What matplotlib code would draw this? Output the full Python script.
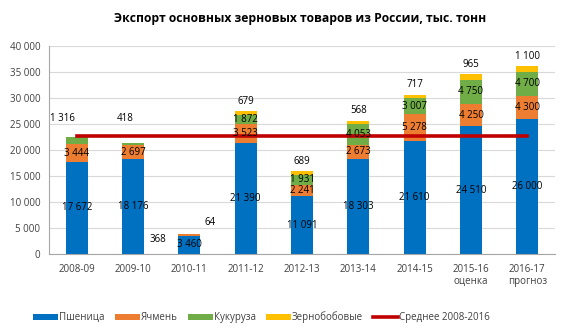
import numpy as np
import matplotlib.pyplot as plt
from matplotlib.ticker import FuncFormatter

plt.rcParams['font.family'] = ['Open Sans', 'DejaVu Sans']

seasons = ["2008-09", "2009-10", "2010-11", "2011-12", "2012-13",
           "2013-14", "2014-15", "2015-16\nоценка", "2016-17\nпрогноз"]
wheat = [17672, 18176, 3460, 21390, 11091, 18303, 21610, 24510, 26000]
barley = [3444, 2697, 368, 3523, 2241, 2673, 5278, 4250, 4300]
corn = [1316, 418, 64, 1872, 1931, 4053, 3007, 4750, 4700]
pulses = [120, 100, 40, 679, 689, 568, 717, 965, 1100]
average = 22700

colors = ["#0070C0", "#ED7D31", "#70AD47", "#FFC000"]
names = ["Пшеница", "Ячмень", "Кукуруза", "Зернобобовые"]


def fmt(v):
    return f"{v:,}".replace(",", " ")


fig = plt.figure(figsize=(5.72, 3.29), dpi=100)
ax = fig.add_axes([0.085, 0.228, 0.886, 0.633])

x = np.arange(len(seasons))
w = 0.39
bottom = np.zeros(len(seasons))
for vals, c, n in zip([wheat, barley, corn, pulses], colors, names):
    ax.bar(x, vals, w, bottom=bottom, color=c, label=n, zorder=2)
    bottom += np.array(vals)

ax.plot(x, [average] * len(x), color="#C00000", lw=2.6, zorder=3,
        label="Среднее 2008-2016")

fs = 7
# labels inside segments
for i in range(len(x)):
    ax.text(x[i], wheat[i] / 2, fmt(wheat[i]), ha="center", va="center",
            fontsize=fs, zorder=4)
    if i != 2:
        ax.text(x[i], wheat[i] + barley[i] / 2, fmt(barley[i]), ha="center",
                va="center", fontsize=fs, zorder=4)
    if i >= 3:
        ax.text(x[i], wheat[i] + barley[i] + corn[i] / 2, fmt(corn[i]),
                ha="center", va="center", fontsize=fs, zorder=4)
        ax.annotate(fmt(pulses[i]), (x[i], bottom[i]), xytext=(0, 7),
                    textcoords="offset points", ha="center", va="center",
                    fontsize=fs, zorder=4)

# labels that Excel pushed out of the small segments
ax.text(x[0] - 0.26, 26100, fmt(corn[0]), ha="center", va="center", fontsize=fs)
ax.text(x[1] - 0.14, 26100, fmt(corn[1]), ha="center", va="center", fontsize=fs)
ax.text(x[2] - 0.56, 2700, fmt(barley[2]), ha="center", va="center", fontsize=fs)
ax.text(x[2] + 0.37, 6000, fmt(corn[2]), ha="center", va="center", fontsize=fs)

ax.set_xlim(-0.5, len(x) - 0.5)
ax.set_ylim(0, 40000)
ax.set_yticks(np.arange(0, 40001, 5000))
ax.yaxis.set_major_formatter(FuncFormatter(lambda v, p: fmt(int(v))))
ax.set_xticks(x)
ax.set_xticklabels(seasons, fontsize=fs)
ax.tick_params(axis="y", labelsize=fs, length=0, pad=6, colors="#404040")
ax.tick_params(axis="x", length=0, pad=7, colors="#404040")
ax.grid(axis="y", color="#D9D9D9", lw=0.8, zorder=0)
for s in ["top", "right"]:
    ax.spines[s].set_visible(False)
ax.spines["left"].set_color("#A6A6A6")
ax.spines["bottom"].set_color("#A6A6A6")

fig.text(0.525, 0.945, "Экспорт основных зерновых товаров из России, тыс. тонн",
         ha="center", va="center", fontsize=8.7, fontweight="bold")

handles, labels = ax.get_legend_handles_labels()
handles = handles[1:] + handles[:1]
labels = labels[1:] + labels[:1]
fig.legend(handles, labels, loc="center", bbox_to_anchor=(0.457, 0.035),
           ncol=5, frameon=False, fontsize=fs, handlelength=2.6,
           handleheight=0.5, handletextpad=0.1, columnspacing=1.0,
           labelcolor="#404040")

fig.savefig("out.png", dpi=100)
